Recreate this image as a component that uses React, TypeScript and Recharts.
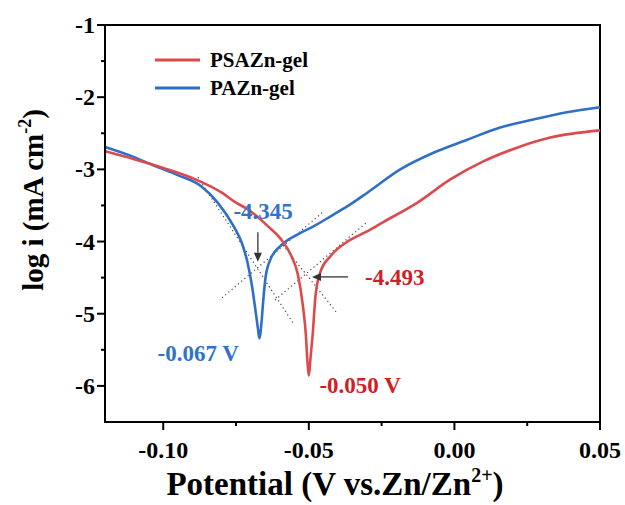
import {
  LineChart,
  Line,
  XAxis,
  YAxis,
  Legend,
  ReferenceArea,
  ReferenceLine,
  ReferenceDot,
} from "recharts";

// PSAZn-gel (red)
const psaznPotential = [
  -0.12, -0.11, -0.1, -0.09, -0.08, -0.0758, -0.07, -0.064, -0.0597, -0.056, -0.0538,
  -0.052, -0.051, -0.0505, -0.05, -0.0494, -0.0487, -0.0477, -0.046, -0.0425, -0.0367,
  -0.03, -0.0244, -0.0127, -0.0014, 0.0099, 0.0215, 0.0329, 0.05,
];
const psaznLogI = [
  -2.75, -2.86, -2.98, -3.12, -3.32, -3.44, -3.58, -3.79, -3.96, -4.2, -4.45,
  -4.9, -5.3, -5.65, -5.86, -5.6, -5.3, -4.75, -4.42, -4.2, -4.0,
  -3.86, -3.73, -3.46, -3.14, -2.89, -2.7, -2.56, -2.46,
];

// PAZn-gel (blue)
const paznPotential = [
  -0.12, -0.11, -0.1042, -0.095, -0.0871, -0.0813, -0.0758, -0.073, -0.071, -0.0695,
  -0.0685, -0.0675, -0.067, -0.0662, -0.0658, -0.0648, -0.0631, -0.0597, -0.0538,
  -0.0484, -0.0425, -0.0367, -0.0298, -0.0186, -0.0072, 0.0044, 0.0157, 0.0271, 0.0386, 0.05,
];
const paznLogI = [
  -2.69, -2.83, -2.93, -3.08, -3.23, -3.46, -3.79, -4.02, -4.3, -4.62,
  -4.9, -5.2, -5.34, -5.1, -4.89, -4.48, -4.24, -4.06, -3.9,
  -3.79, -3.65, -3.51, -3.32, -3.0, -2.77, -2.59, -2.42, -2.31, -2.21, -2.14,
];

const seriesNames = ["PSAZn-gel", "PAZn-gel"];

const xMajorTicks = [-0.1, -0.05, 0, 0.05];
const xMinorTicks = [-0.075, -0.025, 0.025];
const yMajorTicks = [-1, -2, -3, -4, -5, -6];
const yMinorTicks = [-1.5, -2.5, -3.5, -4.5, -5.5];

// Tafel extrapolation lines: [x1, y1, x2, y2]
const paznTafel = [
  [-0.0881, -3.11, -0.0554, -5.13],
  [-0.0798, -4.78, -0.0451, -3.59],
];
const psaznTafel = [
  [-0.0589, -4.05, -0.0403, -4.99],
  [-0.0616, -4.81, -0.03, -3.73],
];

const RED = "#dd4a4e";
const BLUE = "#2f6fc8";
const RED_TEXT = "#d0201f";
const BLUE_TEXT = "#3273c8";
const FONT = "'Liberation Serif', 'Times New Roman', serif";

const toPoints = (xs: number[], ys: number[]) => xs.map((x, i) => ({ x, y: ys[i] }));
const psaznData = toPoints(psaznPotential, psaznLogI);
const paznData = toPoints(paznPotential, paznLogI);

const isMajor = (list: number[], v: number) => list.some((t) => Math.abs(t - v) < 1e-9);

const XTick = (p: any) => {
  const v = p.payload.value;
  const major = isMajor(xMajorTicks, v);
  return (
    <g>
      <line x1={p.x} x2={p.x} y1={p.y} y2={p.y + (major ? 8 : 4)} stroke="#000" strokeWidth={2} />
      {major && (
        <text x={p.x} y={p.y + 36} textAnchor="middle" fontFamily={FONT} fontWeight="bold" fontSize={24} fill="#000">
          {v.toFixed(2)}
        </text>
      )}
    </g>
  );
};

const YTick = (p: any) => {
  const v = p.payload.value;
  const major = isMajor(yMajorTicks, v);
  return (
    <g>
      <line x1={p.x - (major ? 8 : 4)} x2={p.x} y1={p.y} y2={p.y} stroke="#000" strokeWidth={2} />
      {major && (
        <text x={p.x - 10} y={p.y + 8} textAnchor="end" fontFamily={FONT} fontWeight="bold" fontSize={24} fill="#000">
          {v}
        </text>
      )}
    </g>
  );
};

const Arrow = (p: any) => {
  const { x1, y1, x2, y2 } = p;
  const a = Math.atan2(y2 - y1, x2 - x1);
  const L = 9;
  const W = 4;
  const bx = x2 - L * Math.cos(a);
  const by = y2 - L * Math.sin(a);
  const pts = `${x2},${y2} ${bx - W * Math.sin(a)},${by + W * Math.cos(a)} ${bx + W * Math.sin(a)},${by - W * Math.cos(a)}`;
  return (
    <g>
      <line x1={x1} y1={y1} x2={bx} y2={by} stroke="#333" strokeWidth={1.3} />
      <polygon points={pts} fill="#333" />
    </g>
  );
};

const textShape = (text: string, color: string, anchor: string) => (p: any) => (
  <text x={p.cx} y={p.cy + 8} textAnchor={anchor} fontFamily={FONT} fontWeight="bold" fontSize={23} fill={color}>
    {text}
  </text>
);

const LegendBox = () => (
  <svg width={200} height={60}>
    {[RED, BLUE].map((c, i) => (
      <g key={i}>
        <line x1={7} x2={52} y1={17 + i * 28} y2={17 + i * 28} stroke={c} strokeWidth={3} />
        <text x={62} y={24 + i * 28} fontFamily={FONT} fontWeight="bold" fontSize={21} fill="#000">
          {seriesNames[i]}
        </text>
      </g>
    ))}
  </svg>
);

export default function App() {
  return (
    <div style={{ position: "absolute", left: 0, top: 0, background: "#fff" }}>
      <LineChart width={625} height={505} margin={{ top: 25, right: 25, left: 45, bottom: 33 }}>
        <XAxis
          type="number"
          dataKey="x"
          domain={[-0.12, 0.05]}
          ticks={[...xMajorTicks, ...xMinorTicks].sort((a, b) => a - b)}
          interval={0}
          tickSize={0}
          tickMargin={0}
          height={50}
          axisLine={{ stroke: "#000", strokeWidth: 2 }}
          tickLine={false}
          tick={<XTick />}
          label={{
            content: () => (
              <text x={335} y={495} textAnchor="middle" fontFamily={FONT} fontWeight="bold" fontSize={33} fill="#000">
                Potential (V vs.Zn/Zn
                <tspan dy={-13} fontSize={20}>2+</tspan>
                <tspan dy={13}>)</tspan>
              </text>
            ),
          }}
        />
        <YAxis
          type="number"
          dataKey="y"
          domain={[-6.5, -1]}
          ticks={[...yMajorTicks, ...yMinorTicks].sort((a, b) => b - a)}
          interval={0}
          tickSize={0}
          tickMargin={0}
          width={60}
          axisLine={{ stroke: "#000", strokeWidth: 2 }}
          tickLine={false}
          tick={<YTick />}
          label={{
            content: () => (
              <text transform="translate(43,200) rotate(-90)" textAnchor="middle" fontFamily={FONT} fontWeight="bold" fontSize={29} fill="#000">
                log i (mA cm
                <tspan dy={-12} fontSize={18}>-2</tspan>
                <tspan dy={12}>)</tspan>
              </text>
            ),
          }}
        />
        <ReferenceArea x1={-0.12} x2={0.05} y1={-6.5} y2={-1} fill="none" stroke="#000" strokeWidth={2} ifOverflow="visible" />
        {[...paznTafel, ...psaznTafel].map((s, i) => (
          <ReferenceLine
            key={"t" + i}
            segment={[{ x: s[0], y: s[1] }, { x: s[2], y: s[3] }]}
            stroke="#444"
            strokeWidth={1.2}
            strokeDasharray="1.2 3"
          />
        ))}
        <Line data={paznData} dataKey="y" name={seriesNames[1]} stroke={BLUE} strokeWidth={2.6} dot={false} type="monotone" isAnimationActive={false} />
        <Line data={psaznData} dataKey="y" name={seriesNames[0]} stroke={RED} strokeWidth={2.6} dot={false} type="monotone" isAnimationActive={false} />
        <ReferenceLine segment={[{ x: -0.0675, y: -3.87 }, { x: -0.0675, y: -4.28 }]} shape={<Arrow />} />
        <ReferenceLine segment={[{ x: -0.0365, y: -4.49 }, { x: -0.0489, y: -4.49 }]} shape={<Arrow />} />
        <ReferenceDot x={-0.0657} y={-3.58} shape={textShape("-4.345", BLUE_TEXT, "middle")} />
        <ReferenceDot x={-0.0307} y={-4.49} shape={textShape("-4.493", RED_TEXT, "start")} />
        <ReferenceDot x={-0.088} y={-5.54} shape={textShape("-0.067 V", BLUE_TEXT, "middle")} />
        <ReferenceDot x={-0.0324} y={-5.99} shape={textShape("-0.050 V", RED_TEXT, "middle")} />
        <Legend
          layout="vertical"
          align="center"
          verticalAlign="middle"
          content={<LegendBox />}
          wrapperStyle={{ left: 148, top: 43, width: 200 }}
        />
      </LineChart>
    </div>
  );
}
